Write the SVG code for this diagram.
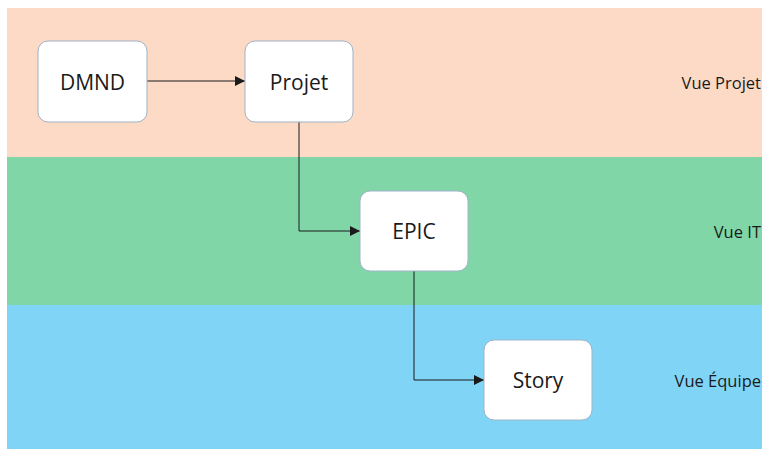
<svg xmlns="http://www.w3.org/2000/svg" width="762" height="449" viewBox="0 0 762 449">
  <style>
    .node rect { fill: #ffffff; stroke: #9fb3c8; stroke-width: 1; }
    .node text { font-family: "Open Sans", "Liberation Sans", sans-serif; font-size: 21px; fill: #1a1a1a; text-anchor: middle; dominant-baseline: central; }
    .lane-label { font-family: "Open Sans", "Liberation Sans", sans-serif; font-size: 16.5px; fill: #1a1a1a; text-anchor: end; dominant-baseline: central; }
    .edge { fill: none; stroke: #1a1a1a; stroke-width: 1; marker-end: url(#arrow); }
  </style>
  <defs>
    <marker id="arrow" viewBox="0 0 10 10" refX="10" refY="5" markerWidth="10" markerHeight="10" markerUnits="userSpaceOnUse" orient="auto">
      <path d="M0,0 L10,5 L0,10 z" fill="#1a1a1a"/>
    </marker>
  </defs>
  <rect x="0" y="0" width="762" height="449" fill="#ffffff"/>
  <!-- swim lanes -->
  <g id="lanes">
    <rect x="7" y="8" width="755" height="149" fill="#fcdac5"/>
    <rect x="7" y="157" width="755" height="148" fill="#80d6a7"/>
    <rect x="7" y="305" width="755" height="144" fill="#80d5f7"/>
    <text class="lane-label" x="761" y="82">Vue Projet</text>
    <text class="lane-label" x="761" y="231">Vue IT</text>
    <text class="lane-label" x="761" y="380">Vue Équipe</text>
  </g>
  <!-- connectors -->
  <g id="connectors">
    <path class="edge" d="M147,81 H245"/>
    <path class="edge" d="M299,122 V231 H360"/>
    <path class="edge" d="M414,271 V380 H484"/>
  </g>
  <g id="dmnd" class="node">
    <rect x="38" y="41" width="109" height="81" rx="10"/>
    <text x="92.5" y="81.5">DMND</text>
  </g>
  <g id="projet" class="node">
    <rect x="245" y="41" width="108" height="81" rx="10"/>
    <text x="299" y="81.5">Projet</text>
  </g>
  <g id="epic" class="node">
    <rect x="360" y="191" width="108" height="80" rx="10"/>
    <text x="414" y="231">EPIC</text>
  </g>
  <g id="story" class="node">
    <rect x="484" y="340" width="108" height="80" rx="10"/>
    <text x="538" y="380">Story</text>
  </g>
</svg>
